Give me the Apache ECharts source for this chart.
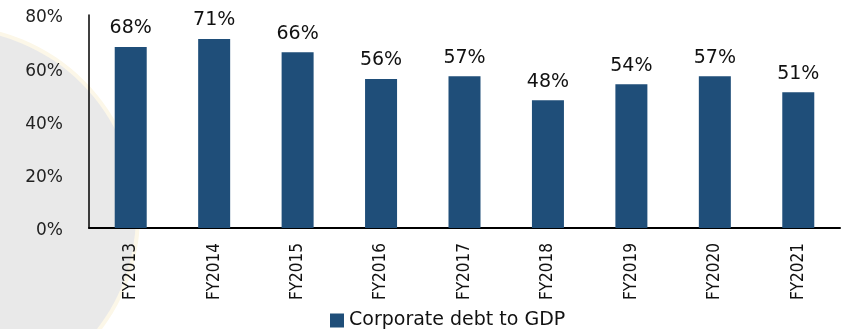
<!DOCTYPE html>
<html>
<head>
<meta charset="utf-8">
<script src="https://cdn.jsdelivr.net/npm/echarts@6/dist/echarts.min.js"></script>
<style>
html,body{margin:0;padding:0;background:#fff;}
#chart{width:845px;height:329px;}
</style>
</head>
<body>
<div id="chart"></div>
<script>
const categories = ['FY2013','FY2014','FY2015','FY2016','FY2017','FY2018','FY2019','FY2020','FY2021'];
const debtToGdp = [68, 71, 66, 56, 57, 48, 54, 57, 51];
const seriesName = 'Corporate debt to GDP';
const yTicks = {min: 0, max: 80, interval: 20};

const chart = echarts.init(document.getElementById('chart'), null, {renderer: 'canvas'});
chart.setOption({
  animation: false,
  backgroundColor: '#ffffff',
  graphic: [
    {type: 'circle', z: -10, silent: true, shape: {cx: -50, cy: 215, r: 190},
     style: {fill: '#fcf7e8'}},
    {type: 'circle', z: -9, silent: true, shape: {cx: -50, cy: 215, r: 186},
     style: {fill: '#e9e9e9'}}
  ],
  grid: {left: 89, right: 5, top: 15, bottom: 101, containLabel: false},
  legend: {
    data: [seriesName],
    left: 325, top: 306,
    itemWidth: 14, itemHeight: 14, itemGap: 8,
    icon: 'rect',
    textStyle: {fontFamily: 'DejaVu Sans', fontSize: 19, color: '#111'}
  },
  xAxis: {
    type: 'category',
    data: categories,
    axisLine: {lineStyle: {color: '#000', width: 2}},
    axisTick: {show: false},
    axisLabel: {rotate: 90, margin: 15, fontFamily: 'DejaVu Sans Condensed, Liberation Sans, sans-serif', fontSize: 17, color: '#111'}
  },
  yAxis: {
    type: 'value',
    min: yTicks.min, max: yTicks.max, interval: yTicks.interval,
    axisLine: {show: true, lineStyle: {color: '#000', width: 1.5}},
    axisTick: {show: false},
    splitLine: {show: false},
    axisLabel: {formatter: '{value}%', margin: 26, verticalAlign: 'top', lineHeight: 6, fontFamily: 'DejaVu Sans', fontSize: 17, color: '#222'}
  },
  series: [{
    name: seriesName,
    type: 'bar',
    data: debtToGdp,
    barWidth: 32,
    itemStyle: {color: '#1f4e79'},
    label: {show: true, position: 'top', distance: 9, formatter: '{c}%', fontFamily: 'DejaVu Sans', fontSize: 19, color: '#111'}
  }]
});
</script>
</body>
</html>
